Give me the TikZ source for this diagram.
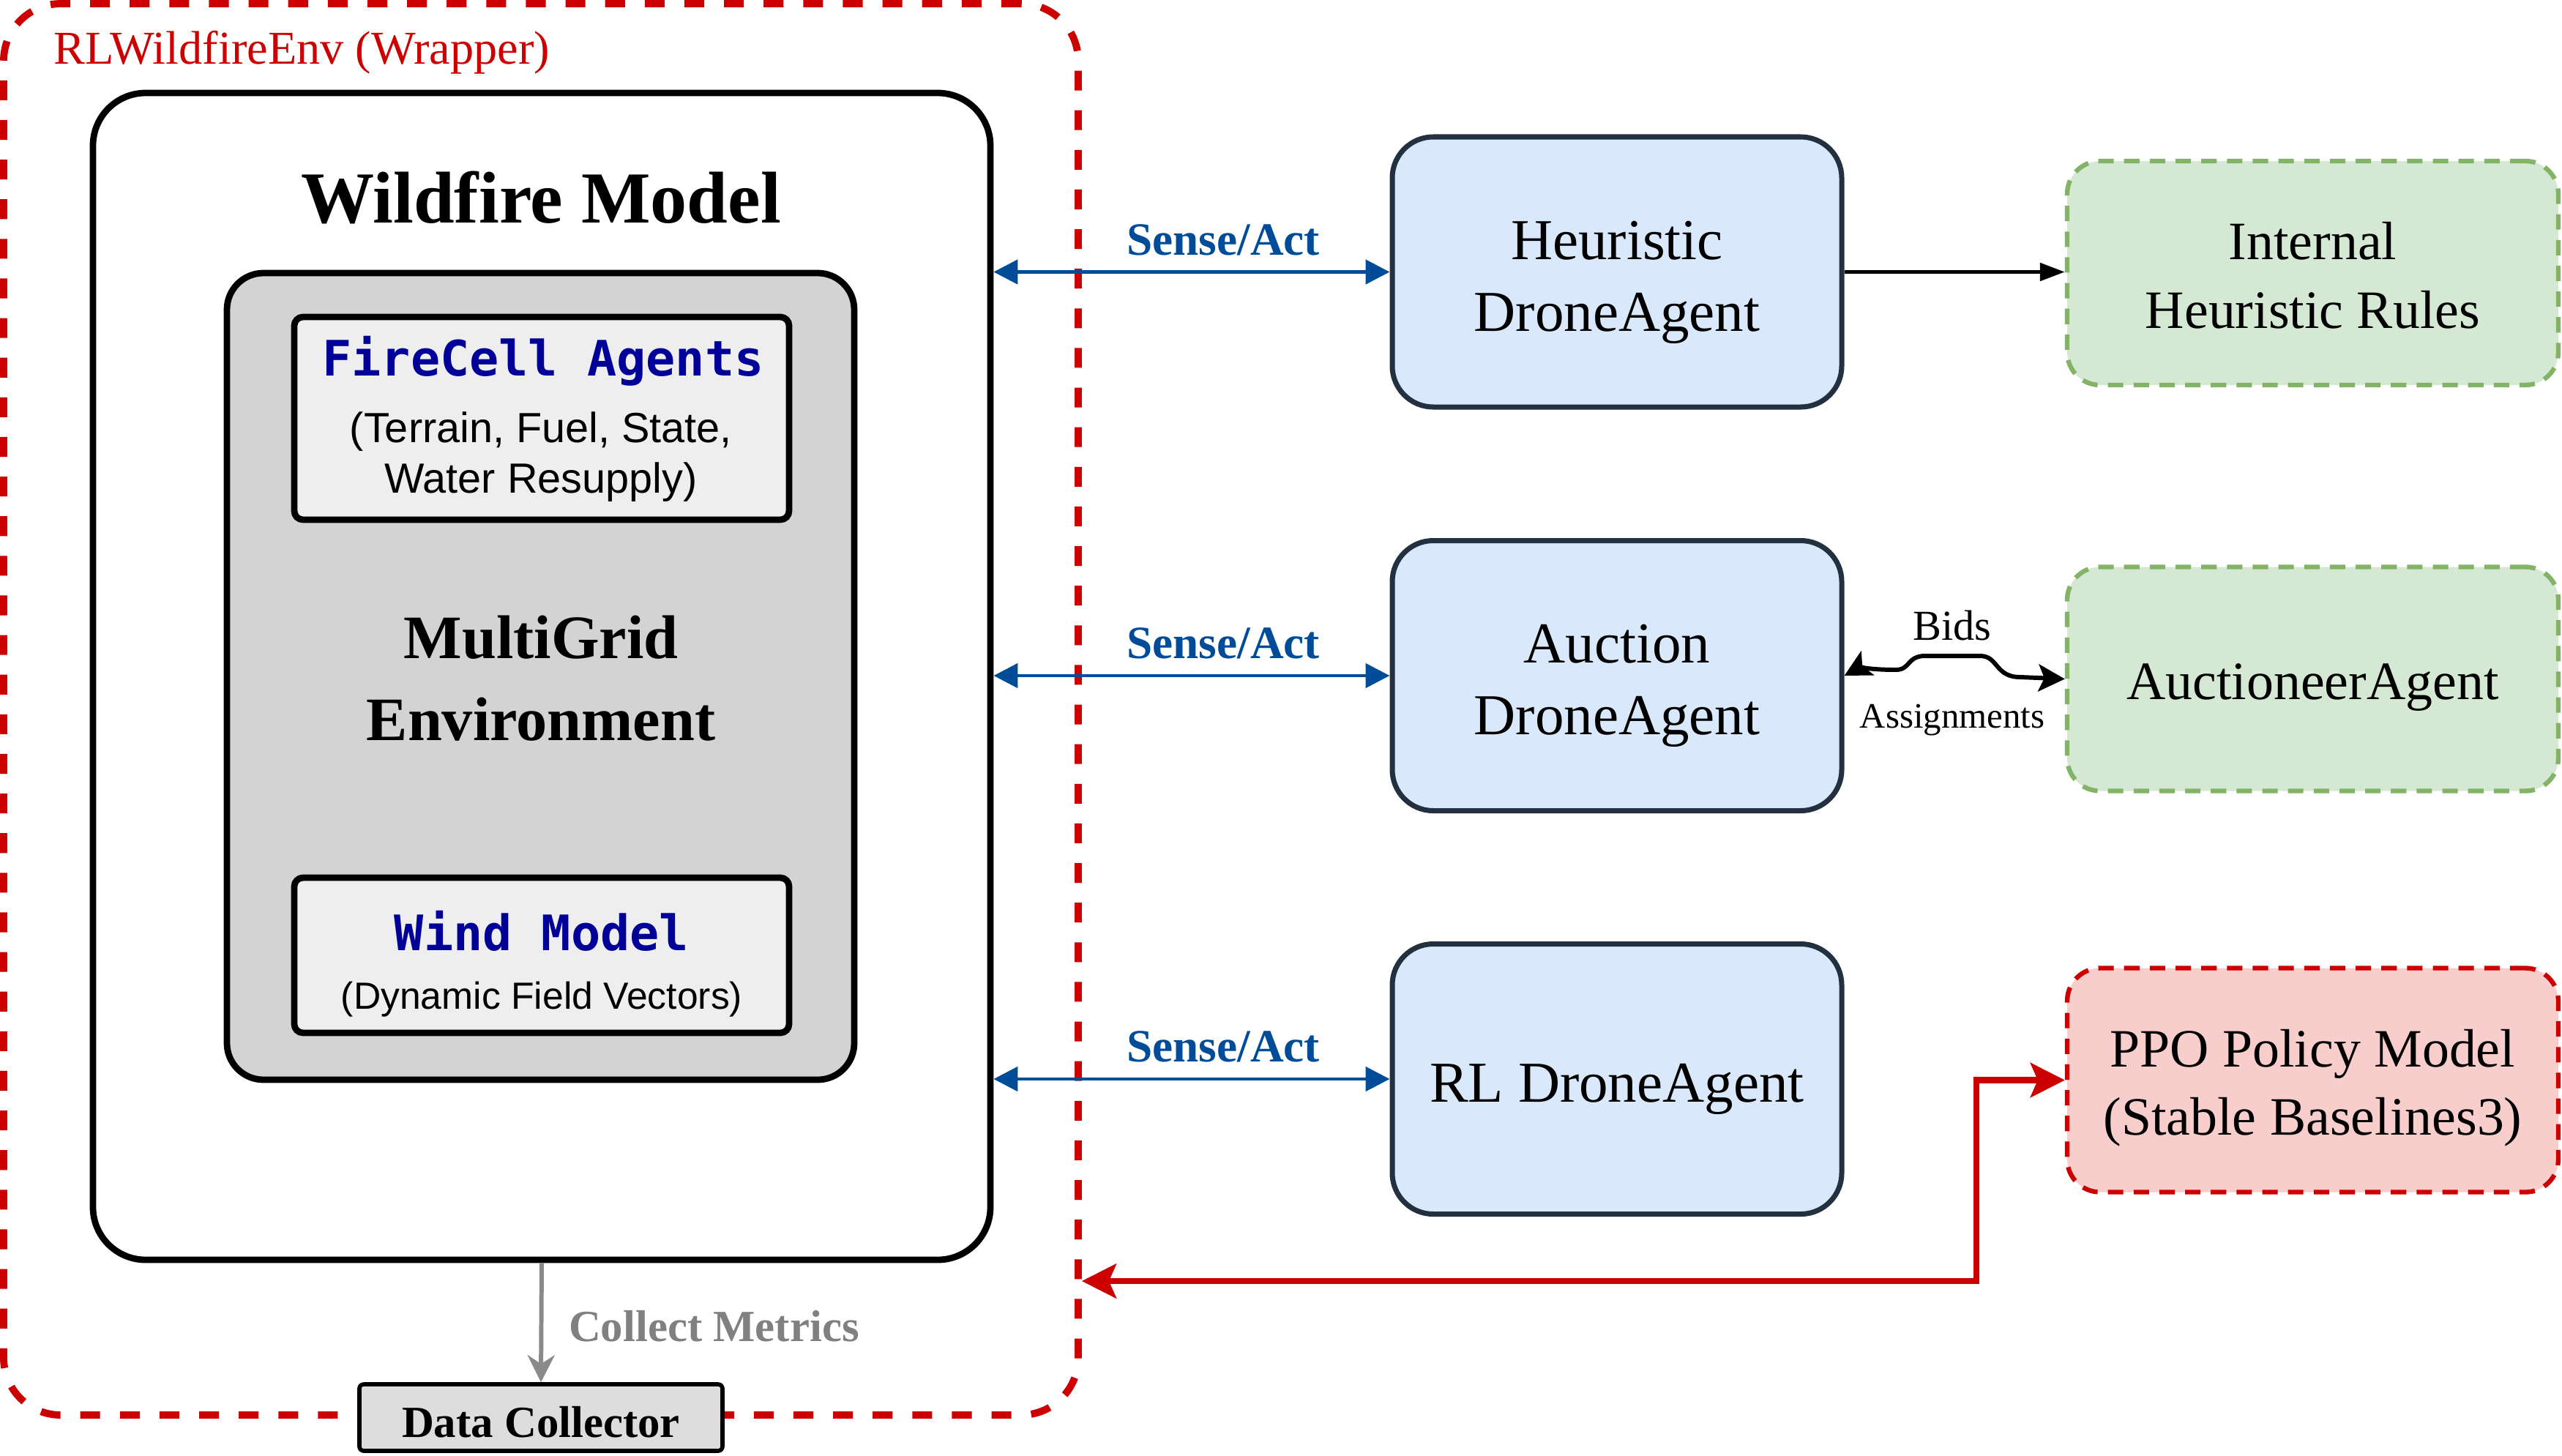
\documentclass[tikz,border=0pt]{standalone}
\usepackage{fontspec}
\setmainfont{Liberation Serif}
\setsansfont{Liberation Sans}
\setmonofont{DejaVu Sans Mono}
\usetikzlibrary{arrows.meta,positioning}
\definecolor{wrapred}{HTML}{CC0000}
\definecolor{actblue}{HTML}{004C99}
\definecolor{codeblue}{HTML}{000099}
\definecolor{agentfill}{HTML}{DAE8FC}
\definecolor{agentline}{HTML}{23303F}
\definecolor{helperfill}{HTML}{D5E8D4}
\definecolor{helperline}{HTML}{82B366}
\definecolor{policyfill}{HTML}{F8CECC}
\definecolor{gridfill}{HTML}{D3D3D3}
\definecolor{cellfill}{HTML}{EEEEEE}
\definecolor{datafill}{HTML}{DDDDDD}
\definecolor{metricgray}{HTML}{808080}
\definecolor{metricline}{HTML}{8A8A8A}
\tikzset{every node/.style={align=center}}
\tikzset{wrapper/.style={rectangle, draw=wrapred, line width=2.8pt, dash pattern=on 7.7pt off 7.7pt, rounded corners=0.78cm, minimum width=14.68cm, minimum height=19.28cm}}
\tikzset{model/.style={rectangle, draw=black, fill=white, line width=2.5pt, rounded corners=0.72cm, minimum width=12.26cm, minimum height=15.94cm}}
\tikzset{gridbox/.style={rectangle, draw=black, fill=gridfill, line width=2.5pt, rounded corners=0.5cm, minimum width=8.57cm, minimum height=11.02cm}}
\tikzset{part/.style={rectangle, draw=black, fill=cellfill, line width=2.5pt, rounded corners=0.12cm, minimum width=6.76cm}}
\tikzset{agent/.style={rectangle, draw=agentline, fill=agentfill, line width=2pt, rounded corners=0.56cm, minimum width=6.14cm, minimum height=3.69cm, font=\fontsize{22.5}{27.9}\selectfont, text height=#1, text depth=4.95pt}, agent/.default=22.95pt}
\tikzset{helper/.style={rectangle, draw=helperline, fill=helperfill, line width=1.8pt, dash pattern=on 6pt off 4pt, rounded corners=0.45cm, minimum width=6.71cm, minimum height=3.06cm, font=\fontsize{21}{26.7}\selectfont, text height=#1, text depth=4.62pt}, helper/.default=20.8pt}
\tikzset{policy/.style={helper=#1, draw=wrapred, fill=policyfill}, policy/.default=20.8pt}
\tikzset{collector/.style={rectangle, draw=black, fill=datafill, line width=1.6pt, rounded corners=0.06cm, minimum width=4.96cm, minimum height=0.91cm, inner ysep=0pt, font=\fontsize{17.3}{20}\selectfont\bfseries, text height=19pt, text depth=3.8pt}}
\tikzset{heading/.style={font=\fontsize{28.5}{34}\selectfont\bfseries}}
\tikzset{code/.style={text=codeblue, font=\fontsize{19}{23}\selectfont\ttfamily\bfseries}}
\tikzset{senseact/.style={draw=actblue, line width=1.4pt, <->, >={Triangle[length=0.33cm,width=0.33cm]}}}
\tikzset{senselabel/.style={text=actblue, font=\fontsize{18}{21}\selectfont\bfseries}}
\tikzset{rlarrow/.style={draw=wrapred, line width=2.3pt, <->, >={Stealth[length=0.47cm,width=0.47cm,inset=0.1cm]}}}
\tikzset{bidarrow/.style={draw=black, line width=1.7pt, <->, >={Stealth[length=0.36cm,width=0.37cm,inset=0.08cm]}}}
\tikzset{rulearrow/.style={draw=black, line width=1.5pt, ->, >={Triangle[length=0.34cm,width=0.24cm]}}}
\tikzset{metricarrow/.style={draw=metricline, line width=1.7pt, ->, >={Stealth[length=0.37cm,width=0.37cm,inset=0.12cm]}}}

\begin{document}
\begin{tikzpicture}
\useasboundingbox (0,0) rectangle (35,-19.88);

% RL wrapper around the simulation
\node[wrapper] (env) at (7.39,-9.69) {};
\node[anchor=west, text=wrapred, font=\fontsize{18.3}{21}\selectfont] (envlabel) at (0.61,-0.715) {RLWildfireEnv (Wrapper)};

% wildfire model and its parts
\node[model] (wild) at (7.40,-9.24) {};
\node[heading] (wildtitle) at (7.39,-2.70) {Wildfire Model};
\node[gridbox] (grid) at (7.385,-9.24) {};
\node[font=\fontsize{24}{31.9}\selectfont\bfseries] (gridtitle) at (7.39,-9.27) {MultiGrid\\Environment};
\node[part, minimum height=2.77cm] (cells) at (7.40,-5.715) {};
\node[code] (cellstitle) at (7.42,-4.935) {FireCell Agents};
\node[font=\fontsize{16.4}{19.6}\selectfont\sffamily] (cellsinfo) at (7.39,-6.24) {(Terrain, Fuel, State,\\Water Resupply)};
\node[part, minimum height=2.12cm] (wind) at (7.40,-13.05) {};
\node[code] (windtitle) at (7.40,-12.72) {Wind Model};
\node[font=\fontsize{14.7}{17.6}\selectfont\sffamily] (windinfo) at (7.40,-13.655) {(Dynamic Field Vectors)};

% metrics
\node[collector] (data) at (7.39,-19.365) {Data Collector};
\draw[metricarrow] (wild.south) -- node[right=6.5pt, yshift=-1.5pt, text=metricgray, font=\fontsize{17.3}{20}\selectfont\bfseries] (metrics) {Collect Metrics} (data.north);

% drone agents
\node[agent=50.85pt] (heur) at (22.09,-3.715) {Heuristic\\DroneAgent};
\node[agent=50.85pt] (auct) at (22.09,-9.23) {Auction\\DroneAgent};
\node[agent] (rl) at (22.09,-14.74) {RL DroneAgent};

% decision makers
\node[helper=47.5pt] (rules) at (31.595,-3.73) {Internal\\Heuristic Rules};
\node[helper] (auctioneer) at (31.595,-9.275) {AuctioneerAgent};
\node[policy=47.5pt] (ppo) at (31.595,-14.755) {PPO Policy Model\\(Stable Baselines3)};

\foreach \drone in {heur,auct,rl}
    \draw[senseact] (wild.east |- \drone.west) -- node[pos=0.58, above=2.4pt, senselabel] {Sense/Act} (\drone.west);

\draw[rulearrow] (heur.east) -- (rules.west |- heur.east);
\draw[bidarrow] (auct.east) .. controls (25.4,-9.12) and (25.6,-9.15) .. (25.9,-9.15)
    .. controls (26.1,-9.15) and (26.05,-8.96) .. (26.3,-8.96) -- (27.05,-8.96)
    .. controls (27.3,-8.96) and (27.25,-9.25) .. (27.6,-9.25) -- (auctioneer.west);
\node[font=\fontsize{16.6}{20}\selectfont] (bids) at (26.67,-8.55) {Bids};
\node[font=\fontsize{13.9}{17}\selectfont] (assign) at (26.67,-9.84) {Assignments};

% training loop
\coordinate (turn) at (27.0,-17.5);
\draw[rlarrow] (env.east |- turn) -- (turn) |- (ppo.west);
\end{tikzpicture}
\end{document}
